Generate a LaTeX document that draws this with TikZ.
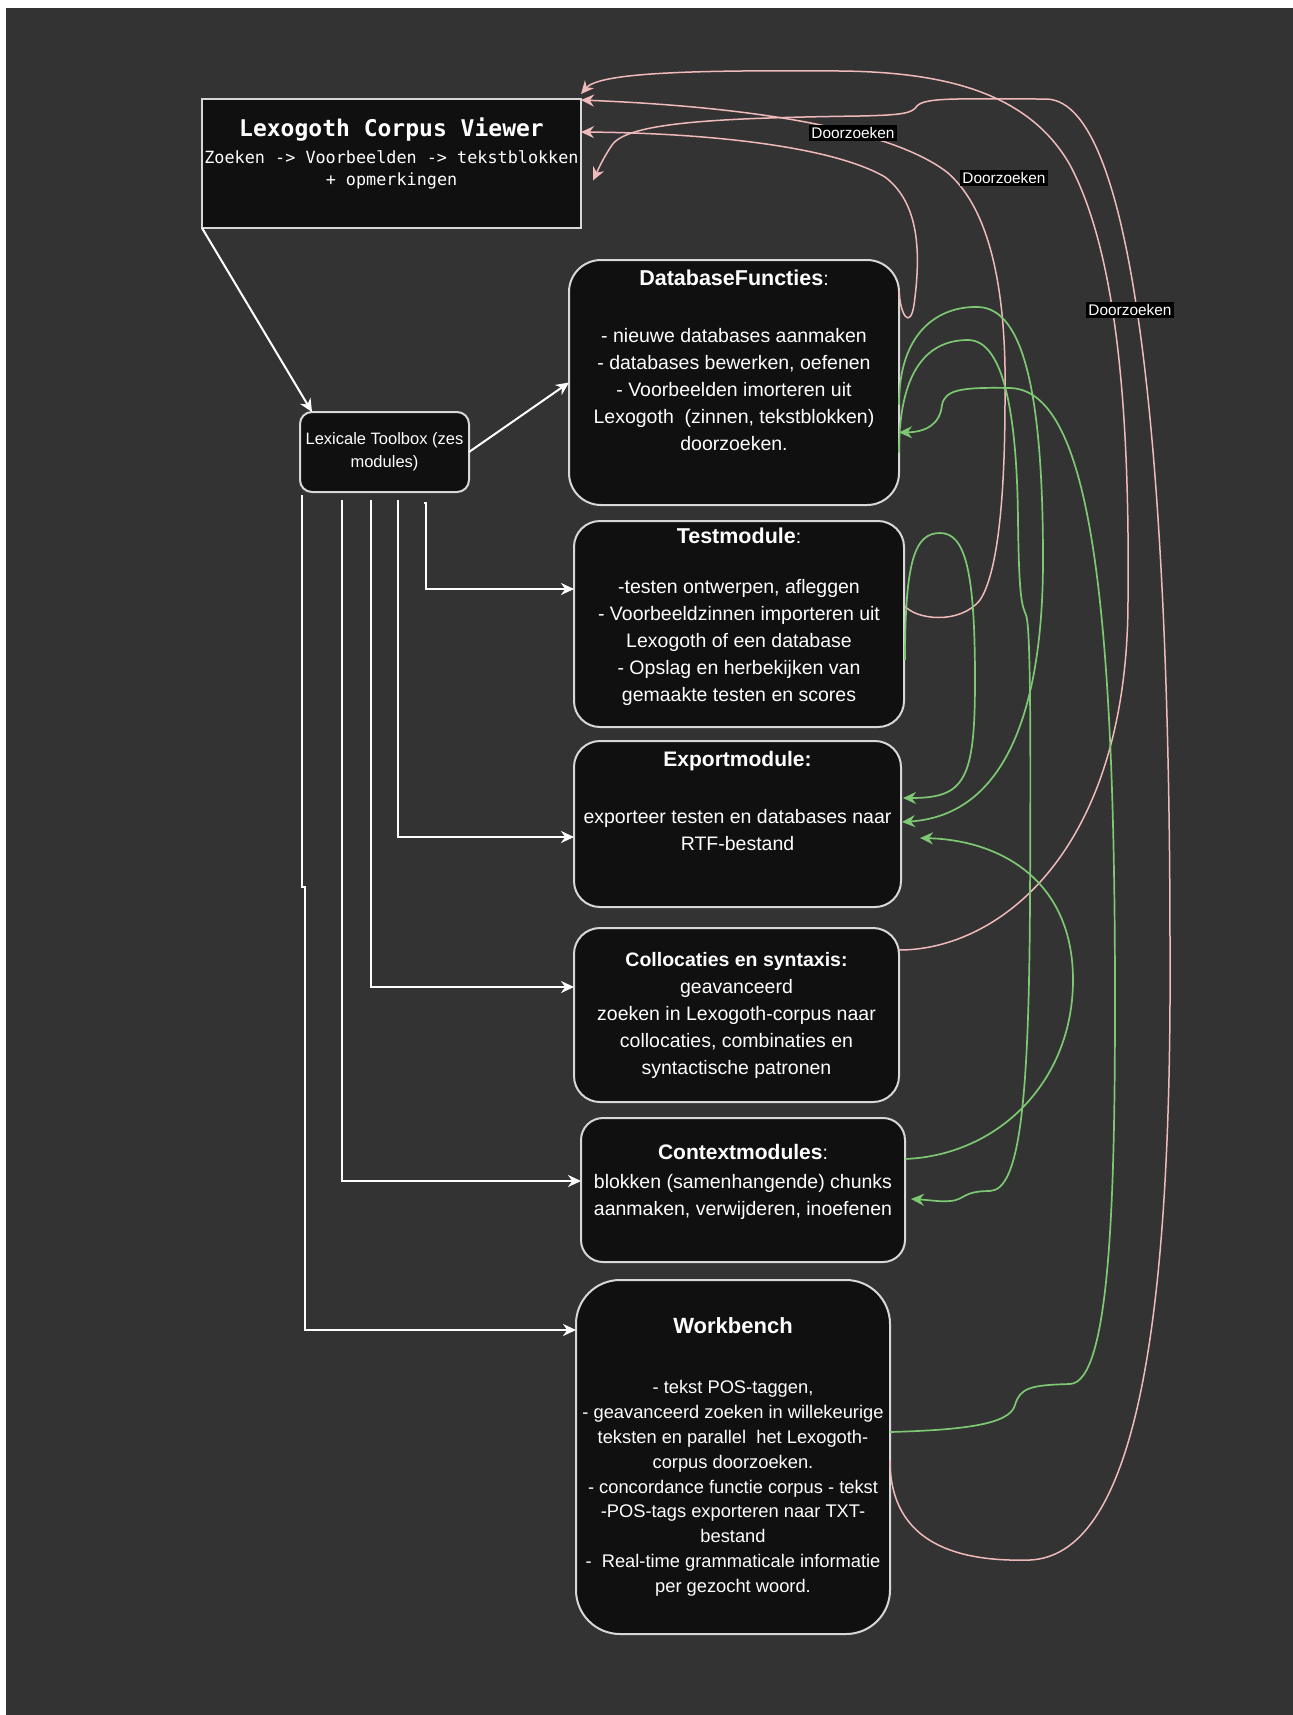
\documentclass[tikz,border=0pt]{standalone}
\usepackage{fontspec}
\setmainfont{Liberation Sans}
\newfontfamily\viewerfont{DejaVu Sans Mono}
\usetikzlibrary{positioning, arrows.meta, calc}

\definecolor{canvas}{RGB}{51,51,51}
\definecolor{boxfill}{RGB}{16,16,16}
\definecolor{boxline}{RGB}{215,215,215}
\definecolor{searchpink}{RGB}{240,186,186}
\definecolor{linkgreen}{RGB}{125,200,115}

\tikzset{
  module/.style={
    draw=boxline, fill=boxfill, text=white, align=center,
    line width=1pt, inner sep=2pt, outer sep=0pt,
    font=\fontsize{9.75pt}{13.5pt}\selectfont
  },
  toolarrow/.style={draw=white, line width=1pt, -{Stealth[length=6.5pt,width=6pt]}},
  searchline/.style={draw=searchpink, line width=0.75pt, -{Stealth[length=6.5pt,width=6pt]}},
  linkline/.style={draw=linkgreen, line width=0.85pt, -{Stealth[length=6.5pt,width=6pt]}},
  searchlabel/.style={fill=black, text=white, inner sep=1pt, font=\fontsize{7.7pt}{9pt}\selectfont}
}

\begin{document}
\begin{tikzpicture}[x=0.5pt, y=-0.5pt]
  \useasboundingbox (0,0) rectangle (1293,1715);
  \fill[white] (0,0) rectangle (1293,1715);
  \fill[canvas] (6,8) rectangle (1293,1715);

  % viewer and toolbox
  \node[module, minimum width=189.5pt, minimum height=64.5pt, inner sep=1pt,
        font=\viewerfont\fontsize{8.4pt}{11pt}\selectfont] (view) at (391.5,163.5)
    {{\bfseries\fontsize{11.5pt}{14pt}\selectfont Lexogoth Corpus Viewer}\\[2.5pt]
     Zoeken -> Voorbeelden -> tekstblokken\\
     + opmerkingen\rule[-11.5pt]{0pt}{11.5pt}};
  \node[module, rounded corners=6pt, minimum width=84.5pt, minimum height=40pt,
        font=\fontsize{8.25pt}{11.5pt}\selectfont] (toolbox) at (384.5,452)
    {Lexicale Toolbox (zes\\ modules)};

  % the six modules
  \node[module, rounded corners=16pt, minimum width=165pt, minimum height=122.5pt] (db) at (734,382.5)
    {{\bfseries\fontsize{10.75pt}{13.5pt}\selectfont DatabaseFuncties}:\\[15pt]
     - nieuwe databases aanmaken\\
     - databases bewerken, oefenen\\
     - Voorbeelden imorteren uit\\
     Lexogoth~ (zinnen, tekstblokken)\\
     doorzoeken.\rule[-22.5pt]{0pt}{22.5pt}};
  \node[module, rounded corners=13pt, minimum width=165pt, minimum height=103pt,
        below=8pt of db, xshift=2.5pt] (test)
    {{\bfseries\fontsize{10.75pt}{13.5pt}\selectfont Testmodule}:\\[11.75pt]
     -testen ontwerpen, afleggen\\
     - Voorbeeldzinnen importeren uit\\
     Lexogoth of een database\\
     - Opslag en herbekijken van\\
     gemaakte testen en scores\rule[-9.5pt]{0pt}{9.5pt}};
  \node[module, rounded corners=13pt, minimum width=163.5pt, minimum height=83pt,
        below=7pt of test, xshift=-0.75pt] (export)
    {{\bfseries\fontsize{10.5pt}{13.5pt}\selectfont Exportmodule:}\\[15.25pt]
     exporteer testen en databases naar\\
     RTF-bestand\rule[-23pt]{0pt}{23pt}};
  \node[module, rounded corners=13pt, minimum width=162.5pt, minimum height=87pt,
        below=10.5pt of export, xshift=-0.5pt] (coll)
    {\textbf{Collocaties en syntaxis:}\\
     geavanceerd\\
     zoeken in Lexogoth-corpus naar\\
     collocaties, combinaties en\\
     syntactische patronen};
  \node[module, rounded corners=11pt, minimum width=162pt, minimum height=72pt,
        below=8pt of coll, xshift=3.25pt] (ctx)
    {{\bfseries\fontsize{10.5pt}{13.5pt}\selectfont Contextmodules}:\\[1pt]
     blokken (samenhangende) chunks\\
     aanmaken, verwijderen, inoefenen\rule[-10pt]{0pt}{10pt}};
  \node[module, rounded corners=22pt, minimum width=157pt, minimum height=177pt,
        below=9pt of ctx, xshift=-5pt, font=\fontsize{9.15pt}{12.4pt}\selectfont] (wb)
    {{\bfseries\fontsize{11pt}{13.5pt}\selectfont Workbench}\\[17.6pt]
     - tekst POS-taggen,\\
     - geavanceerd zoeken in willekeurige\\
     teksten en parallel~ het Lexogoth-\\
     corpus doorzoeken.\\
     - concordance functie corpus - tekst\\
     -POS-tags exporteren naar TXT-\\
     bestand\\
     -~ Real-time grammaticale informatie\\
     per gezocht woord.};

  % white connectors
  \draw[toolarrow] (view.south west) -- ($(toolbox.north west)+(12,0)$);
  \draw[toolarrow] (toolbox.east) -- (db.west);
  \draw[toolarrow] ($(toolbox.south west)+(124,11)$) -- ++(2,0) |- ($(test.west)+(0,-35)$);
  \draw[toolarrow] ($(toolbox.south west)+(98,8)$) |- ($(export.west)+(0,13)$);
  \draw[toolarrow] ($(toolbox.south west)+(71,8)$) |- ($(coll.west)+(0,-28)$);
  \draw[toolarrow] ($(toolbox.south west)+(42,8)$) |- ($(ctx.west)+(0,-9)$);
  \draw[toolarrow] ($(toolbox.south west)+(1.7,3)$) -- ++(0,392) -- ++(3,0) |- ($(wb.west)+(0,-127)$);

  % doorzoeken (pink)
  \draw[searchline] ($(coll.north east)+(0,22)$)
    .. controls (1000,950) and (1128,850) .. (1128,600)
    .. controls (1130,400) and (1115,250) .. (1070,165)
    .. controls (1030,95) and (950,72) .. (840,71)
    .. controls (700,70) and (600,72) .. ($(view.north east)+(0,-5)$);
  \draw[searchline] ($(test.east)+(0,-19)$)
    .. controls (915,620) and (960,625) .. (980,600)
    .. controls (1000,570) and (1005,480) .. (1005,400)
    .. controls (1007,290) and (990,210) .. (948,173)
    .. controls (900,135) and (780,108) .. ($(view.north east)+(0,1)$);
  \draw[searchline] ($(db.north east)+(0,30)$)
    .. controls (900,315) and (910,330) .. (914,305)
    .. controls (920,260) and (922,205) .. (885,177)
    .. controls (830,145) and (700,133) .. ($(view.north east)+(0,33)$);
  \draw[searchline] ($(wb.east)+(0,3)$)
    .. controls (890,1545) and (960,1562) .. (1030,1560)
    .. controls (1130,1555) and (1172,1350) .. (1170,950)
    .. controls (1170,500) and (1140,100) .. (1046,99)
    .. controls (960,99) and (925,97) .. (917,106)
    .. controls (912,113) and (905,115) .. (860,116)
    .. controls (720,118) and (628,122) .. (612,145)
    .. controls (602,160) and (598,170) .. ($(view.east)+(12,17)$);

  % links between modules (green)
  \draw[linkline] ($(wb.east)+(0,-25)$)
    .. controls (960,1430) and (1010,1425) .. (1015,1405)
    .. controls (1020,1388) and (1030,1385) .. (1070,1384)
    .. controls (1110,1382) and (1115,1200) .. (1115,1000)
    .. controls (1115,600) and (1090,390) .. (1010,388)
    .. controls (960,387) and (945,390) .. (942,405)
    .. controls (940,425) and (925,432) .. ($(db.east)+(0,50)$);
  \draw[linkline] ($(db.east)+(0,22)$)
    .. controls (899,330) and (940,306) .. (978,307)
    .. controls (1025,308) and (1043,400) .. (1043,560)
    .. controls (1043,700) and (1010,815) .. ($(export.east)+(1,-2)$);
  \draw[linkline] ($(db.east)+(0,70)$)
    .. controls (899,360) and (935,340) .. (968,340)
    .. controls (1005,340) and (1017,420) .. (1018,520)
    .. controls (1019,600) and (1022,605) .. (1026,615)
    .. controls (1030,625) and (1031,700) .. (1030,900)
    .. controls (1029,1100) and (1020,1190) .. (990,1191)
    .. controls (962,1191) and (965,1200) .. (950,1201)
    .. controls (940,1202) and (930,1200) .. ($(ctx.east)+(6,9)$);
  \draw[linkline] ($(test.east)+(1,36)$)
    .. controls (905,560) and (915,533) .. (940,533)
    .. controls (965,533) and (975,570) .. (975,680)
    .. controls (975,780) and (965,798) .. ($(export.east)+(2,-26)$);
  \draw[linkline] ($(ctx.east)+(0,-31)$)
    .. controls (1000,1155) and (1073,1080) .. (1073,980)
    .. controls (1073,880) and (1000,840) .. ($(export.east)+(19,14)$);

  \node[searchlabel] (zoek1) at (853,133) {Doorzoeken};
  \node[searchlabel] (zoek2) at (1004,178) {Doorzoeken};
  \node[searchlabel] (zoek3) at (1130,310) {Doorzoeken};
\end{tikzpicture}
\end{document}
